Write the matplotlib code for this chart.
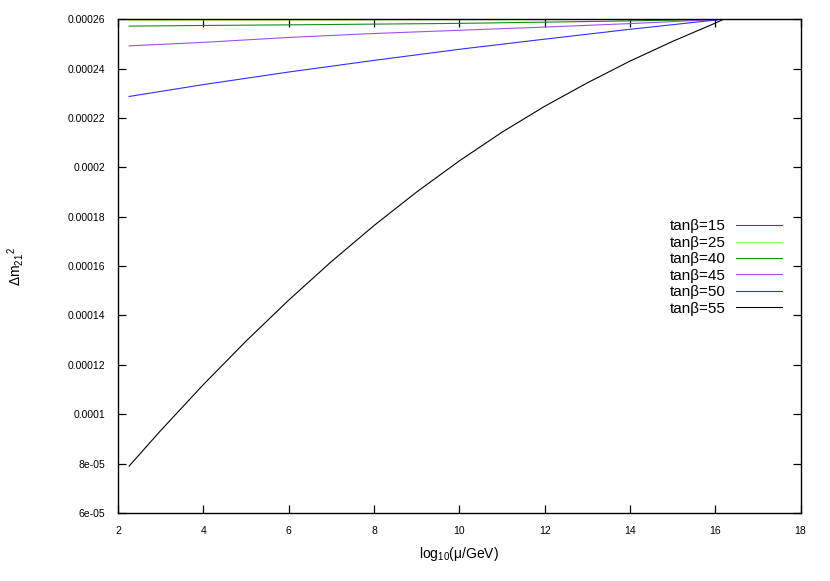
import matplotlib
matplotlib.use("Agg")
import matplotlib.pyplot as plt

plt.rcParams['font.family'] = ['Liberation Sans', 'DejaVu Sans']
plt.rcParams['mathtext.fontset'] = 'custom'
plt.rcParams['mathtext.rm'] = 'Liberation Sans'
plt.rcParams['mathtext.it'] = 'Liberation Sans'

labels = ["tan\u03b2=15", "tan\u03b2=25", "tan\u03b2=40", "tan\u03b2=45", "tan\u03b2=50", "tan\u03b2=55"]
colors = ["#ff0000", "#99ff44", "#1a8a1a", "#a050f0", "#3030ff", "#000000"]

x_lin = [2.26, 4, 6, 8, 10, 12, 14, 16.2]
y_15 = [2.599e-4, 2.599e-4, 2.599e-4, 2.5992e-4, 2.5994e-4, 2.5996e-4, 2.5998e-4, 2.600e-4]
y_25 = [2.596e-4, 2.5965e-4, 2.597e-4, 2.5975e-4, 2.598e-4, 2.5986e-4, 2.5992e-4, 2.600e-4]
y_40 = [2.572e-4, 2.5745e-4, 2.577e-4, 2.580e-4, 2.583e-4, 2.588e-4, 2.593e-4, 2.600e-4]
y_45 = [2.492e-4, 2.506e-4, 2.526e-4, 2.542e-4, 2.555e-4, 2.568e-4, 2.582e-4, 2.600e-4]
y_50 = [2.287e-4, 2.335e-4, 2.386e-4, 2.433e-4, 2.478e-4, 2.519e-4, 2.559e-4, 2.600e-4]

x_55 = [2.26, 3, 4, 5, 6, 7, 8, 9, 10, 11, 12, 13, 14, 15, 16, 16.2]
y_55 = [0.790e-4, 0.934e-4, 1.120e-4, 1.296e-4, 1.462e-4, 1.618e-4, 1.764e-4, 1.900e-4,
        2.026e-4, 2.142e-4, 2.247e-4, 2.342e-4, 2.430e-4, 2.510e-4, 2.584e-4, 2.600e-4]

series_x = [x_lin, x_lin, x_lin, x_lin, x_lin, x_55]
series_y = [y_15, y_25, y_40, y_45, y_50, y_55]

x_ticks = [2, 4, 6, 8, 10, 12, 14, 16, 18]
y_ticks = [6e-5, 8e-5, 1e-4, 1.2e-4, 1.4e-4, 1.6e-4, 1.8e-4, 2e-4, 2.2e-4, 2.4e-4, 2.6e-4]
y_tick_labels = ["6e-05", "8e-05", "0.0001", "0.00012", "0.00014", "0.00016",
                 "0.00018", "0.0002", "0.00022", "0.00024", "0.00026"]

fig = plt.figure(figsize=(8.30, 5.81), dpi=100)
ax = fig.add_axes([0.1422, 0.117, 0.8223, 0.850])

for xs, ys, c, lab in zip(series_x, series_y, colors, labels):
    ax.plot(xs, ys, color=c, lw=0.8, label=lab)

ax.set_xlim(2, 18)
ax.set_ylim(6e-5, 2.6e-4)
ax.set_xticks(x_ticks)
ax.set_xticklabels([str(t) for t in x_ticks])
ax.set_yticks(y_ticks)
ax.set_yticklabels(y_tick_labels)
ax.tick_params(direction='in', length=6, width=0.9, top=True, right=True,
               labelsize=7.5, pad=9, colors='black')
for s in ax.spines.values():
    s.set_linewidth(1.0)

ax.set_xlabel(r'log$_{10}$($\mu$/GeV)', fontsize=10, labelpad=7)
ax.set_ylabel(r'$\Delta$m$_{21}{}^{2}$', fontsize=10)
ax.yaxis.set_label_coords(-0.135, 0.5)

leg = ax.legend(loc='center right', bbox_to_anchor=(0.973, 0.497), frameon=False,
                markerfirst=False, fontsize=11, handlelength=3.0, handletextpad=0.7,
                labelspacing=0.16, borderpad=0, borderaxespad=0)

fig.savefig("out.png", dpi=100)
